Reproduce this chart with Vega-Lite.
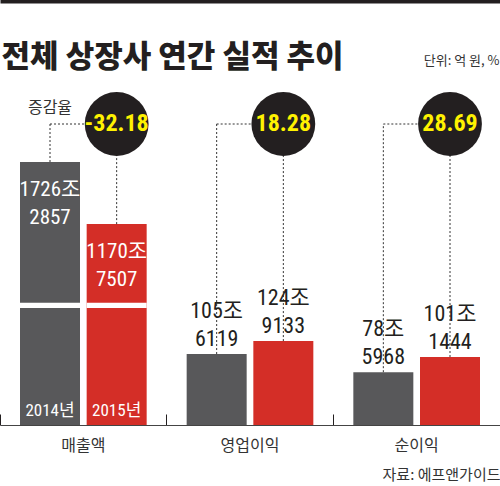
{
  "$schema": "https://vega.github.io/schema/vega-lite/v6.json",
  "width": 500,
  "height": 425,
  "autosize": {"type": "none"},
  "padding": {"left": 0, "top": 0, "right": 0, "bottom": 61},
  "background": "white",
  "config": {
    "view": {"stroke": null},
    "font": "Noto Sans CJK KR"
  },
  "datasets": {
    "bars": [
      {"category": "매출액", "year": "2014", "value": 17262857},
      {"category": "매출액", "year": "2015", "value": 11707507},
      {"category": "영업이익", "year": "2014", "value": 1056119},
      {"category": "영업이익", "year": "2015", "value": 1249133},
      {"category": "순이익", "year": "2014", "value": 785968},
      {"category": "순이익", "year": "2015", "value": 1011444}
    ],
    "rates": [
      {"category": "매출액", "rate": -32.18},
      {"category": "영업이익", "rate": 18.28},
      {"category": "순이익", "rate": 28.69}
    ]
  },
  "resolve": {"axis": {"x": "independent"}},
  "layer": [
    {
      "data": {"name": "bars"},
      "mark": {"type": "bar"},
      "encoding": {
        "x": {
          "field": "category", "type": "nominal",
          "sort": ["매출액", "영업이익", "순이익"],
          "scale": {"paddingInner": 0, "paddingOuter": 0},
          "axis": {
            "orient": "bottom",
            "labelAngle": 0,
            "labelFont": "Noto Sans CJK KR",
            "labelFontSize": 16,
            "labelColor": "#333333",
            "labelPadding": 23,
            "domainColor": "#444444",
            "domainWidth": 1,
            "bandPosition": 0,
            "tickSize": -11,
            "tickWidth": 1,
            "tickColor": "#231f20",
            "title": "자료: 에프앤가이드",
            "titleFont": "Noto Sans CJK KR",
            "titleFontSize": 15,
            "titleFontWeight": "normal",
            "titleColor": "#333333",
            "titleAlign": "right",
            "titleAnchor": "end",
            "titleX": 500,
            "titleY": 54,
            "titleBaseline": "alphabetic"
          }
        },
        "xOffset": {
          "field": "year", "type": "nominal",
          "scale": {"paddingInner": 0.1, "paddingOuter": 0.3}
        },
        "y": {
          "field": "value", "type": "quantitative",
          "scale": {
            "domain": [0, 1250000, 17262857, 20000000],
            "range": [425, 341, 162, 124],
            "nice": false, "zero": false
          },
          "axis": {
            "labels": false, "ticks": false, "domain": false, "grid": false,
            "title": "단위: 억 원, %",
            "titleAngle": 0,
            "titleFont": "Noto Sans CJK KR",
            "titleFontSize": 13,
            "titleFontWeight": "normal",
            "titleColor": "#333333",
            "titleAlign": "right",
            "titleX": 499,
            "titleY": 64,
            "titleBaseline": "alphabetic"
          }
        },
        "color": {
          "field": "year", "type": "nominal",
          "scale": {"domain": ["2014", "2015"], "range": ["#58585a", "#d42e27"]},
          "legend": null
        }
      }
    },
    {
      "data": {"name": "bars"},
      "transform": [{"filter": "datum.category === '매출액'"}],
      "mark": {"type": "bar", "color": "white"},
      "encoding": {
        "x": {"field": "category", "type": "nominal", "sort": ["매출액", "영업이익", "순이익"], "axis": null},
        "xOffset": {"field": "year", "type": "nominal"},
        "y": {"datum": 4202000, "type": "quantitative"},
        "y2": {"datum": 4676000}
      }
    },
    {
      "data": {"name": "bars"},
      "mark": {"type": "rule", "color": "#333333", "strokeDash": [2, 2], "strokeWidth": 1},
      "encoding": {
        "x": {"field": "category", "type": "nominal", "sort": ["매출액", "영업이익", "순이익"], "axis": null},
        "xOffset": {"field": "year", "type": "nominal"},
        "y": {"field": "value", "type": "quantitative"},
        "y2": {"datum": 20000000}
      }
    },
    {
      "data": {"name": "rates"},
      "mark": {"type": "rule", "color": "#333333", "strokeDash": [2, 2], "strokeWidth": 1},
      "encoding": {
        "x": {
          "field": "category", "type": "nominal", "sort": ["매출액", "영업이익", "순이익"],
          "bandPosition": 0.3,
          "axis": {
            "orient": "top",
            "labels": false, "ticks": false, "grid": false,
            "domain": true, "domainColor": "#231f20", "domainWidth": 6,
            "title": "전체 상장사 연간 실적 추이",
            "titleFont": "Noto Sans CJK KR",
            "titleFontSize": 31,
            "titleFontWeight": 900,
            "titleColor": "#231f20",
            "titleAlign": "left",
            "titleAnchor": "start",
            "titleX": 1,
            "titleY": 66,
            "titleBaseline": "alphabetic"
          }
        },
        "x2": {"field": "category", "bandPosition": 0.7},
        "y": {"datum": 20000000, "type": "quantitative"}
      }
    },
    {
      "data": {"name": "rates"},
      "mark": {"type": "point", "shape": "circle", "filled": true, "size": 4072, "color": "#231f20", "opacity": 1},
      "encoding": {
        "x": {"field": "category", "type": "nominal", "sort": ["매출액", "영업이익", "순이익"], "bandPosition": 0.7, "axis": null},
        "y": {"datum": 20000000, "type": "quantitative"}
      }
    },
    {
      "data": {"name": "rates"},
      "mark": {"type": "text", "align": "center", "color": "#fff200", "font": "Roboto Condensed, Roboto", "fontSize": 24, "fontWeight": "bold", "baseline": "middle"},
      "encoding": {
        "x": {"field": "category", "type": "nominal", "sort": ["매출액", "영업이익", "순이익"], "bandPosition": 0.7, "axis": null},
        "y": {"datum": 20000000, "type": "quantitative"},
        "text": {"field": "rate", "type": "nominal"}
      }
    },
    {
      "data": {"name": "rates"},
      "transform": [{"filter": "datum.category === '매출액'"}],
      "mark": {"type": "text", "text": "증감율", "align": "center", "color": "#333333", "font": "Noto Sans CJK KR", "fontSize": 16, "baseline": "middle", "dy": -16},
      "encoding": {
        "x": {"field": "category", "type": "nominal", "sort": ["매출액", "영업이익", "순이익"], "bandPosition": 0.3, "axis": null},
        "y": {"datum": 20000000, "type": "quantitative"}
      }
    },
    {
      "data": {"name": "bars"},
      "transform": [
        {"filter": "datum.category === '매출액'"},
        {"calculate": "floor(datum.value / 10000) + '조\\n' + (datum.value % 10000)", "as": "label"}
      ],
      "mark": {"type": "text", "align": "center", "color": "white", "font": "Roboto Condensed, Noto Sans CJK KR", "fontSize": 21, "baseline": "alphabetic", "dy": 34, "lineBreak": "\n", "lineHeight": 28},
      "encoding": {
        "x": {"field": "category", "type": "nominal", "sort": ["매출액", "영업이익", "순이익"], "axis": null},
        "xOffset": {"field": "year", "type": "nominal"},
        "y": {"field": "value", "type": "quantitative"},
        "text": {"field": "label", "type": "nominal"}
      }
    },
    {
      "data": {"name": "bars"},
      "transform": [
        {"filter": "datum.category !== '매출액'"},
        {"calculate": "floor(datum.value / 10000) + '조\\n' + (datum.value % 10000)", "as": "label"}
      ],
      "mark": {"type": "text", "align": "center", "color": "#231f20", "font": "Roboto Condensed, Noto Sans CJK KR", "fontSize": 22, "baseline": "alphabetic", "dy": -36, "lineBreak": "\n", "lineHeight": 28},
      "encoding": {
        "x": {"field": "category", "type": "nominal", "sort": ["매출액", "영업이익", "순이익"], "axis": null},
        "xOffset": {"field": "year", "type": "nominal"},
        "y": {"field": "value", "type": "quantitative"},
        "text": {"field": "label", "type": "nominal"}
      }
    },
    {
      "data": {"name": "bars"},
      "transform": [
        {"filter": "datum.category === '매출액'"},
        {"calculate": "datum.year + '년'", "as": "yearLabel"}
      ],
      "mark": {"type": "text", "align": "center", "color": "white", "font": "Roboto Condensed, Noto Sans CJK KR", "fontSize": 17, "baseline": "alphabetic", "dy": -9},
      "encoding": {
        "x": {"field": "category", "type": "nominal", "sort": ["매출액", "영업이익", "순이익"], "axis": null},
        "xOffset": {"field": "year", "type": "nominal"},
        "y": {"datum": 0, "type": "quantitative"},
        "text": {"field": "yearLabel", "type": "nominal"}
      }
    }
  ]
}
